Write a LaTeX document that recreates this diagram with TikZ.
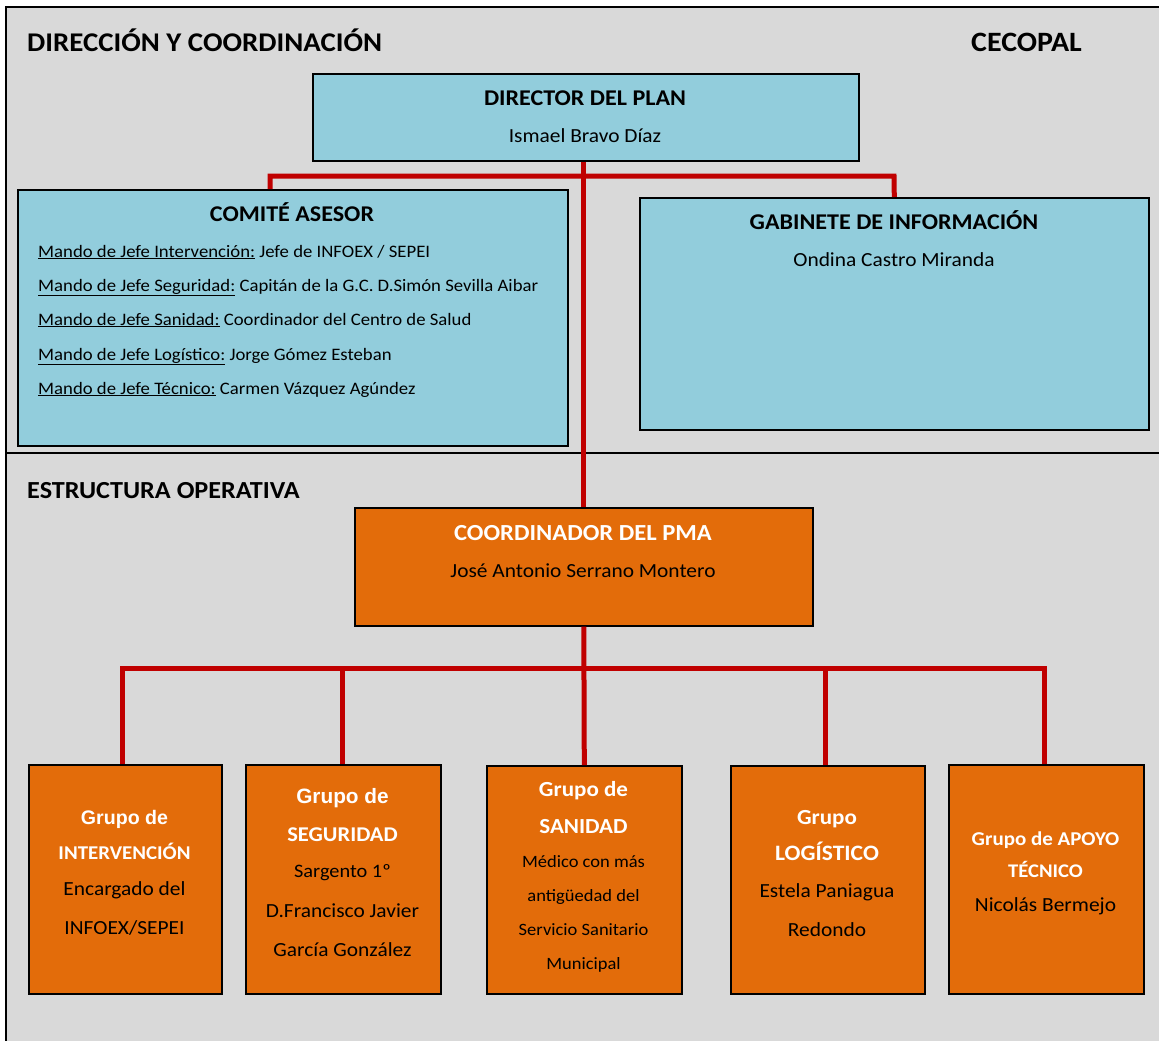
\documentclass[tikz,border=0pt]{standalone}
\usepackage{fontspec}
\setmainfont[FakeStretch=1.07]{Carlito}
\newfontfamily\arialf{Liberation Sans}
\definecolor{bggray}{HTML}{D9D9D9}
\definecolor{boxblue}{HTML}{92CDDC}
\definecolor{boxorange}{HTML}{E36C0A}
\definecolor{linkred}{HTML}{C00000}
\tikzset{
  box/.style={draw=black, line width=1.6pt, inner sep=0pt, anchor=north west},
  bluebox/.style={box, fill=boxblue},
  orangebox/.style={box, fill=boxorange},
  conn/.style={draw=linkred, line width=5pt, line join=miter},
  frame/.style={draw=black, line width=2.5pt},
  txt/.style={anchor=base, inner sep=0pt},
  sect/.style={txt, anchor=base west, font=\fontsize{27.5}{32}\bfseries\selectfont},
  head/.style={txt, font=\fontsize{22.5}{26}\bfseries\selectfont},
  body/.style={txt, font=\fontsize{20}{24}\selectfont},
  mando/.style={txt, anchor=base west, font=\fontsize{17.5}{21}\selectfont},
  whead/.style={txt, text=white, font=\fontsize{21.5}{25}\bfseries\selectfont},
  wgrupo/.style={txt, text=white, font=\arialf\fontsize{20}{24}\bfseries\selectfont},
  obody/.style={txt, font=\fontsize{20}{24}\selectfont},
  sbody/.style={txt, font=\fontsize{17.3}{21}\selectfont}
}
\begin{document}
\begin{tikzpicture}[x=1pt,y=-1pt]
\useasboundingbox (0,0) rectangle (1159,1041);
% background and frame
\fill[bggray] (6,7) rectangle (1159,1041);
\draw[frame] (6,1041) -- (6,7) -- (1159,7);
\draw[frame] (6,453) -- (1159,453);

% section titles
\node[sect, font=\fontsize{27}{32}\bfseries\selectfont] (tdir) at (27,52) {DIRECCIÓN Y COORDINACIÓN};
\node[sect, font=\fontsize{28}{32}\bfseries\selectfont] (tcec) at (971,52) {CECOPAL};
\node[sect, font=\fontsize{24.5}{29}\bfseries\selectfont] (test) at (27,498) {ESTRUCTURA OPERATIVA};

% director
\node[bluebox, minimum width=546pt, minimum height=87pt] (dir) at (312,73) {};
\node[head] (dirA) at (585,105) {DIRECTOR DEL PLAN};
\node[body] (dirB) at (585,142) {Ismael Bravo Díaz};

% comite asesor
\node[bluebox, minimum width=550pt, minimum height=256pt] (com) at (17,189) {};
\node[head] (comA) at (292,221) {COMITÉ ASESOR};
\node[mando] (m1) at (38,257) {\underline{Mando de Jefe Intervención:} Jefe de INFOEX / SEPEI};
\node[mando] (m2) at (38,291) {\underline{Mando de Jefe Seguridad:} Capitán de la G.C. D.Simón Sevilla Aibar};
\node[mando] (m3) at (38,325) {\underline{Mando de Jefe Sanidad:} Coordinador del Centro de Salud};
\node[mando] (m4) at (38,360) {\underline{Mando de Jefe Logístico:} Jorge Gómez Esteban};
\node[mando] (m5) at (38,394) {\underline{Mando de Jefe Técnico:} Carmen Vázquez Agúndez};

% gabinete
\node[bluebox, minimum width=509pt, minimum height=232pt] (gab) at (639,197) {};
\node[head] (gabA) at (894,229) {GABINETE DE INFORMACIÓN};
\node[body] (gabB) at (894,266) {Ondina Castro Miranda};

% coordinador
\node[orangebox, minimum width=458pt, minimum height=118pt] (coo) at (354,507) {};
\node[whead, font=\fontsize{23}{27}\bfseries\selectfont] (cooA) at (583,540) {COORDINADOR DEL PMA};
\node[body] (cooB) at (583,577) {José Antonio Serrano Montero};

% grupos
\node[orangebox, minimum width=193pt, minimum height=229pt] (g1) at (28,764) {};
\node[wgrupo, font=\arialf\fontsize{19.6}{24}\bfseries\selectfont] (g1a) at (124.5,824) {Grupo de};
\node[whead, font=\fontsize{19.5}{24}\bfseries\selectfont] (g1b) at (124.5,859) {INTERVENCIÓN};
\node[obody] (g1c) at (124.5,895) {Encargado del};
\node[obody] (g1d) at (124.5,934) {INFOEX/SEPEI};

\node[orangebox, minimum width=195pt, minimum height=229pt] (g2) at (245,764) {};
\node[wgrupo, font=\arialf\fontsize{20.8}{25}\bfseries\selectfont] (g2a) at (342.5,803) {Grupo de};
\node[whead, font=\fontsize{21}{25}\bfseries\selectfont] (g2b) at (342.5,841) {SEGURIDAD};
\node[obody, font=\fontsize{19}{23}\selectfont] (g2c) at (342.5,877) {Sargento 1º};
\node[obody] (g2d) at (342.5,917) {D.Francisco Javier};
\node[obody] (g2e) at (342.5,956) {García González};

\node[orangebox, minimum width=195pt, minimum height=228pt] (g3) at (486,765) {};
\node[whead] (g3a) at (583.5,796) {Grupo de};
\node[whead] (g3b) at (583.5,833) {SANIDAD};
\node[sbody] (g3c) at (583.5,867) {Médico con más};
\node[sbody] (g3d) at (583.5,901) {antigüedad del};
\node[sbody] (g3e) at (583.5,935) {Servicio Sanitario};
\node[sbody] (g3f) at (583.5,969) {Municipal};

\node[orangebox, minimum width=194pt, minimum height=228pt] (g4) at (730,765) {};
\node[whead] (g4a) at (827,824) {Grupo};
\node[whead, font=\fontsize{22}{26}\bfseries\selectfont] (g4b) at (827,860) {LOGÍSTICO};
\node[obody] (g4c) at (827,897) {Estela Paniagua};
\node[obody] (g4d) at (827,936) {Redondo};

\node[orangebox, minimum width=195pt, minimum height=229pt] (g5) at (948,764) {};
\node[whead, font=\fontsize{19.6}{23}\bfseries\selectfont] (g5a) at (1045.5,845) {Grupo de APOYO};
\node[whead, font=\fontsize{19.3}{23}\bfseries\selectfont] (g5b) at (1045.5,877) {TÉCNICO};
\node[obody] (g5c) at (1045.5,911) {Nicolás Bermejo};

% connectors top
\coordinate (cb) at (270,176);
\coordinate (gb) at (894,176);
\draw[conn] (com.north -| cb) -- (cb) -- (gb) -- (gab.north);
\draw[conn] (dir.south -| coo.north) -- (coo.north);

% connectors bottom
\coordinate (b1) at (122,668);
\coordinate (b2) at (342,668);
\coordinate (b3) at (583,668);
\coordinate (b4) at (825,668);
\coordinate (b5) at (1044,668);
\draw[conn] (g1.north -| b1) -- (b1) -- (b5) -- (g5.north -| b5);
\draw[conn] (coo.south) -- (g3.north);
\draw[conn] (b2) -- (g2.north -| b2);
\draw[conn] (b4) -- (g4.north -| b4);
\end{tikzpicture}
\end{document}
